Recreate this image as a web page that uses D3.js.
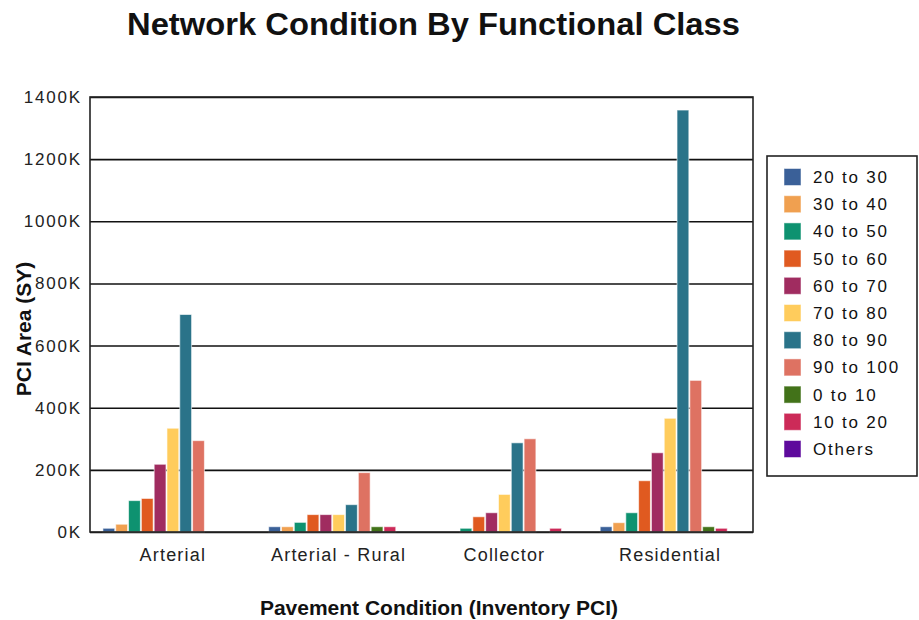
<!DOCTYPE html>
<html>
<head>
<meta charset="utf-8">
<script src="https://cdn.jsdelivr.net/npm/d3@7"></script>
<style>
  html, body { margin: 0; padding: 0; background: #fff; }
  svg { display: block; font-family: "Liberation Sans", Arial, sans-serif; }
</style>
</head>
<body>
<svg id="chart" width="919" height="620"></svg>
<script>
// ---- data (values in thousands of SY) ----
const categories = ["Arterial", "Arterial - Rural", "Collector", "Residential"];
const seriesNames = ["20 to 30", "30 to 40", "40 to 50", "50 to 60", "60 to 70", "70 to 80",
                     "80 to 90", "90 to 100", "0 to 10", "10 to 20", "Others"];
const seriesColors = ["#3A6098", "#F0A050", "#0E9270", "#E05A20", "#A02C60", "#FFCC5C",
                      "#2A7389", "#DE7262", "#427219", "#CC2A58", "#5E0A9C"];
const arterialValues      = [12, 25, 101, 108, 218, 334, 700, 294, 0, 0, 0];
const arterialRuralValues = [17, 17, 31, 56, 56, 56, 88, 191, 17, 17, 0];
const collectorValues     = [0, 0, 12, 49, 62, 121, 287, 300, 0, 12, 0];
const residentialValues   = [17, 30, 62, 165, 255, 366, 1358, 488, 17, 12, 0];
const yTicks = [0, 200, 400, 600, 800, 1000, 1200, 1400];

const valuesByCategory = [arterialValues, arterialRuralValues, collectorValues, residentialValues];

const svg = d3.select("#chart");
const L = 90, R = 753, T = 97, B = 532;

const y = d3.scaleLinear().domain([0, 1400]).range([B, T]);
const x0 = d3.scaleBand().domain(categories).range([L, R]).paddingInner(0.15).paddingOuter(0.075);
const x1 = d3.scaleBand().domain(seriesNames).range([0, x0.bandwidth()]).padding(0);
const color = d3.scaleOrdinal().domain(seriesNames).range(seriesColors);

// title
svg.append("text")
  .attr("x", 127).attr("y", 35)
  .attr("font-size", 31).attr("font-weight", "bold")
  .attr("textLength", 613).attr("lengthAdjust", "spacingAndGlyphs")
  .attr("fill", "#111")
  .text("Network Condition By Functional Class");

// gridlines + y tick labels
const yAxisG = svg.append("g").attr("transform", `translate(${L},0)`)
  .call(d3.axisLeft(y).tickValues(yTicks).tickSize(-(R - L)).tickPadding(8)
        .tickFormat(d => d + "K"));
yAxisG.select(".domain").remove();
yAxisG.selectAll(".tick line").attr("stroke", "#111").attr("stroke-width", 1.6);
yAxisG.selectAll(".tick text").attr("font-size", 17).attr("fill", "#222")
  .attr("letter-spacing", 1.8)
  .attr("font-family", "'Liberation Sans', Arial, sans-serif");

// bars
const groups = svg.append("g").selectAll("g")
  .data(categories.map((c, i) => ({ cat: c, vals: valuesByCategory[i] })))
  .join("g")
  .attr("transform", d => `translate(${x0(d.cat)},0)`);

groups.selectAll("rect")
  .data(d => d.vals.map((v, j) => ({ name: seriesNames[j], v })))
  .join("rect")
  .filter(d => d.v > 0)
  .attr("x", d => x1(d.name) + 0.5)
  .attr("width", x1.bandwidth() - 1)
  .attr("y", d => y(d.v))
  .attr("height", d => y(0) - y(d.v))
  .attr("fill", d => color(d.name))
  .attr("stroke", "#ffffff").attr("stroke-opacity", 0.6).attr("stroke-width", 1);

// plot border
svg.append("rect")
  .attr("x", L).attr("y", T).attr("width", R - L).attr("height", B - T)
  .attr("fill", "none").attr("stroke", "#222").attr("stroke-width", 1.6);

// x axis labels
const xAxisG = svg.append("g").attr("transform", `translate(0,${B})`)
  .call(d3.axisBottom(x0).tickSize(0).tickPadding(15));
xAxisG.select(".domain").remove();
xAxisG.selectAll(".tick text").attr("font-size", 18).attr("fill", "#222")
  .attr("letter-spacing", 1.2).attr("dy", "0.8em")
  .attr("font-family", "'Liberation Sans', Arial, sans-serif");

// axis titles
svg.append("text")
  .attr("x", 439).attr("y", 615)
  .attr("text-anchor", "middle")
  .attr("font-size", 21).attr("font-weight", "bold").attr("fill", "#111")
  .text("Pavement Condition (Inventory PCI)");

svg.append("text")
  .attr("transform", "translate(31,329) rotate(-90)")
  .attr("text-anchor", "middle")
  .attr("font-size", 21).attr("font-weight", "bold").attr("fill", "#111")
  .text("PCI Area (SY)");

// legend
const lg = svg.append("g");
lg.append("rect")
  .attr("x", 767).attr("y", 156).attr("width", 150).attr("height", 320)
  .attr("fill", "#fff").attr("stroke", "#222").attr("stroke-width", 1.6);
const items = lg.selectAll("g.item").data(seriesNames).join("g")
  .attr("class", "item")
  .attr("transform", (d, i) => `translate(784,${177 + i * 27.2})`);
items.append("rect")
  .attr("x", 0).attr("y", -8.5).attr("width", 17).attr("height", 17)
  .attr("fill", d => color(d))
  .attr("stroke", "#fff").attr("stroke-opacity", 0.5);
items.append("text")
  .attr("x", 29).attr("y", 6)
  .attr("font-size", 17).attr("letter-spacing", 1.8).attr("fill", "#111")
  .text(d => d);
</script>
</body>
</html>
